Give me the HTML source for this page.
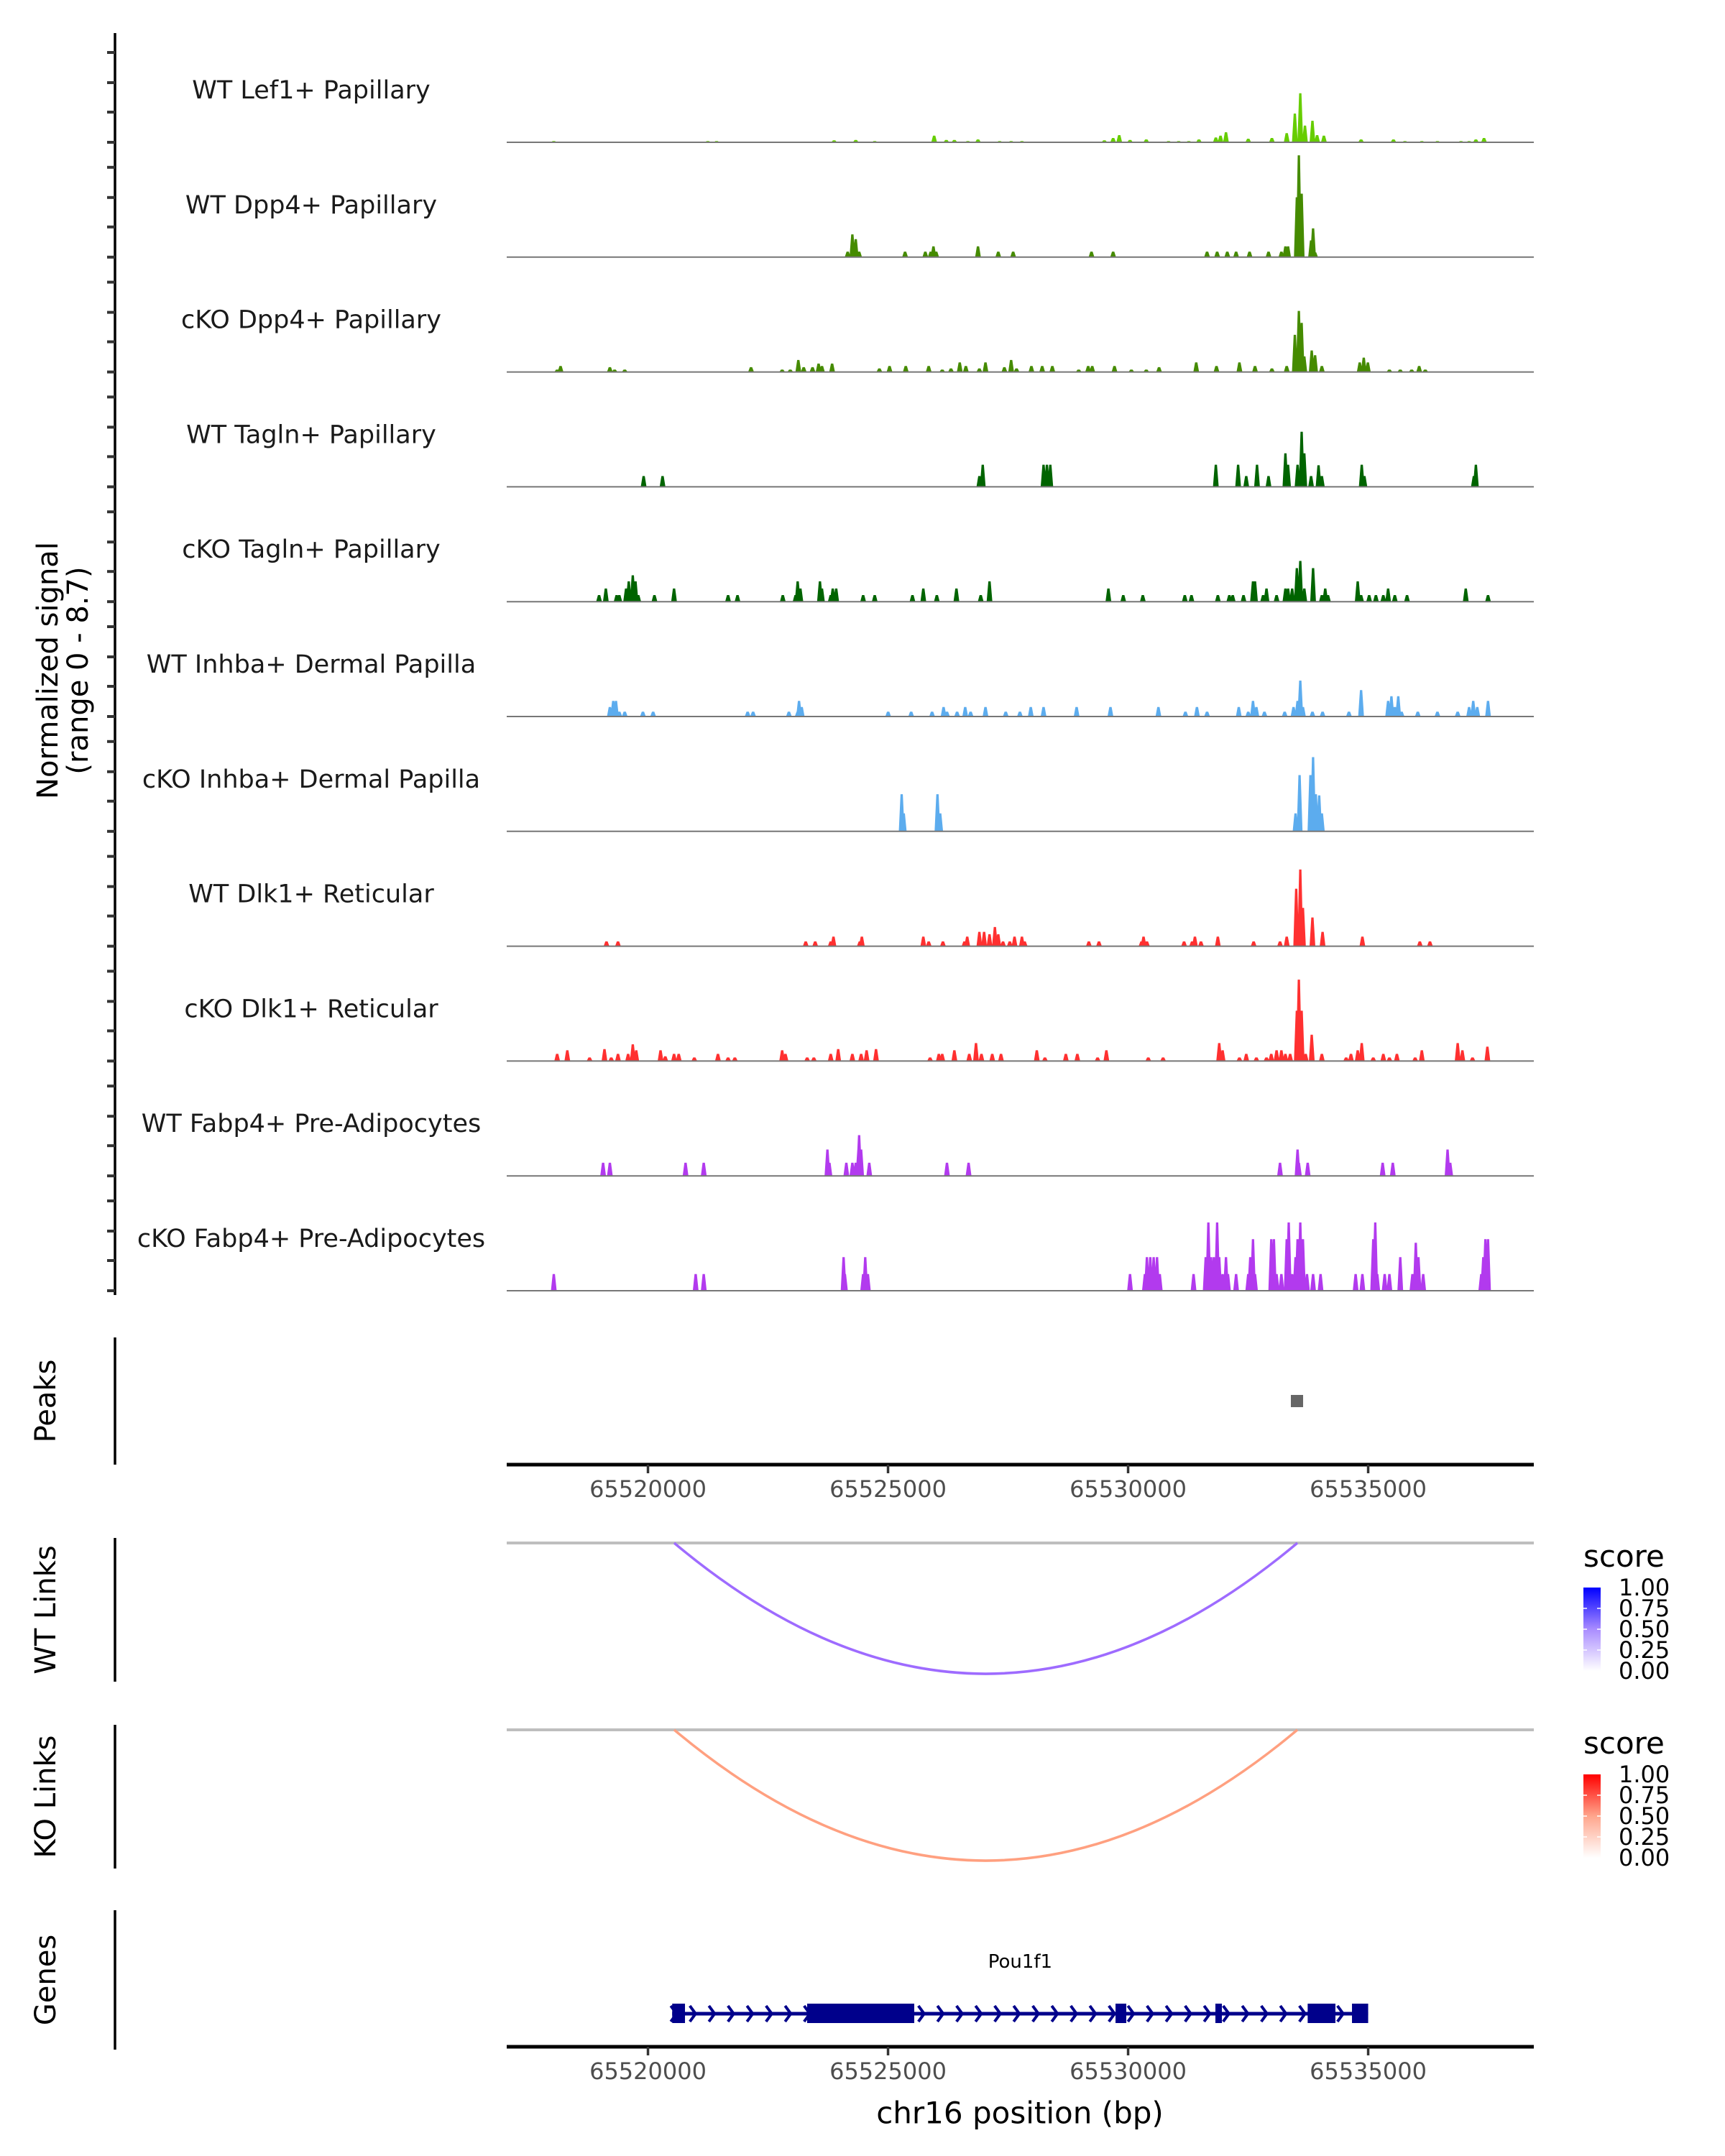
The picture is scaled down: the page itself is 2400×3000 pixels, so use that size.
<!DOCTYPE html>
<html><head><meta charset="utf-8">
<style>
html,body{margin:0;padding:0;background:#fff;}
svg{display:block;font-family:"DejaVu Sans","Liberation Sans",sans-serif;}
</style></head>
<body>
<svg id="chart" xmlns="http://www.w3.org/2000/svg" width="2400" height="3000" viewBox="0 0 2400 3000">
<rect x="0" y="0" width="2400" height="3000" fill="#fff"/>
<text transform="translate(67,933) rotate(-90)" text-anchor="middle" dominant-baseline="central" font-size="40" fill="#000">Normalized signal</text>
<text transform="translate(109,933) rotate(-90)" text-anchor="middle" dominant-baseline="central" font-size="40" fill="#000">(range 0 - 8.7)</text>
<g id="tracks"></g>
<g id="lower"></g>
</svg>
<script>
// ---- data ----
const xDomain = [65517058, 65538450];
const xTicks = [65520000, 65525000, 65530000, 65535000];
const xTickLabels = ["65520000", "65525000", "65530000", "65535000"];
const signalMax = 8.7;
const trackNames = ["WT Lef1+ Papillary","WT Dpp4+ Papillary","cKO Dpp4+ Papillary","WT Tagln+ Papillary","cKO Tagln+ Papillary","WT Inhba+ Dermal Papilla","cKO Inhba+ Dermal Papilla","WT Dlk1+ Reticular","cKO Dlk1+ Reticular","WT Fabp4+ Pre-Adipocytes","cKO Fabp4+ Pre-Adipocytes"];
const trackColors = ["#66CD00","#458B00","#458B00","#006400","#006400","#5CACEE","#5CACEE","#FF3030","#FF3030","#B23AEE","#B23AEE"];

const lef1Pos = [65518038,65521246,65521429,65523877,65524328,65524722,65525960,65526213,65526382,65526663,65526874,65527324,65527564,65527789,65529505,65529688,65529815,65530040,65530378,65530842,65531053,65531264,65531475,65531827,65531925,65532038,65532502,65532995,65533304,65533473,65533586,65533684,65533839,65533937,65534078,65534852,65535527,65535766,65536118,65536442,65536934,65537103,65537244,65537413];
const lef1Val = [0.1,0.1,0.1,0.16,0.2,0.1,0.56,0.2,0.2,0.1,0.24,0.1,0.1,0.1,0.16,0.36,0.6,0.2,0.24,0.1,0.1,0.1,0.24,0.4,0.56,0.84,0.3,0.36,0.76,2.4,4.1,1.4,1.8,0.6,0.56,0.24,0.24,0.1,0.1,0.1,0.1,0.1,0.24,0.36];

const wtDpp4Pos = [65524159,65524257,65524328,65524398,65525355,65525777,65525889,65525946,65526002,65526874,65527296,65527606,65529238,65529688,65531644,65531855,65532066,65532249,65532530,65532924,65533192,65533276,65533332,65533515,65533557,65533614,65533811,65533853,65533895];
const wtDpp4Val = [0.46,1.9,1.5,0.46,0.46,0.46,0.46,0.9,0.46,0.9,0.46,0.46,0.46,0.46,0.46,0.46,0.46,0.46,0.46,0.46,0.46,0.9,0.9,5.0,8.5,5.3,1.4,2.4,0.4];

const koDpp4Pos = [65518109,65518179,65519206,65519305,65519516,65522147,65522794,65522963,65523132,65523244,65523427,65523554,65523624,65523835,65524820,65525031,65525369,65525847,65526129,65526311,65526494,65526621,65526902,65527029,65527423,65527564,65527676,65527986,65528211,65528422,65528971,65529168,65529252,65529716,65530068,65530378,65530645,65531419,65531841,65532319,65532643,65532995,65533304,65533473,65533557,65533614,65533670,65533825,65533895,65534036,65534824,65534908,65534993,65535443,65535668,65535907,65536062,65536189];
const koDpp4Val = [0.2,0.5,0.4,0.2,0.2,0.4,0.2,0.2,1.0,0.4,0.4,0.7,0.5,0.7,0.3,0.5,0.5,0.5,0.2,0.3,0.8,0.5,0.3,0.8,0.4,1.0,0.3,0.5,0.5,0.5,0.2,0.5,0.5,0.5,0.2,0.2,0.4,0.8,0.5,0.8,0.5,0.3,0.5,3.1,5.1,4.1,1.3,1.8,1.4,0.5,0.8,1.2,0.8,0.2,0.2,0.2,0.5,0.2];

const wtTaglnPos = [65519910,65520304,65526902,65526973,65528239,65528309,65528380,65531827,65532291,65532460,65532685,65532924,65533276,65533332,65533529,65533614,65533670,65533811,65533966,65534036,65534866,65534922,65537202,65537244];
const wtTaglnVal = [0.9,0.9,0.9,1.85,1.85,1.85,1.85,1.85,1.85,0.9,1.85,0.9,2.8,1.85,1.85,4.6,2.8,0.9,1.8,0.9,1.85,0.9,0.9,1.85];

const koTaglnPos = [65518981,65519122,65519347,65519403,65519544,65519600,65519684,65519741,65519797,65520135,65520543,65521668,65521865,65522808,65523075,65523118,65523174,65523582,65523624,65523807,65523849,65523920,65524482,65524722,65525509,65525735,65526016,65526424,65526930,65527113,65529590,65529899,65530307,65531180,65531320,65531869,65532108,65532179,65532404,65532601,65532643,65532812,65532882,65533093,65533276,65533332,65533417,65533515,65533586,65533670,65533853,65534036,65534106,65534162,65534782,65534852,65535021,65535161,65535316,65535415,65535555,65535809,65537033,65537497];
const koTaglnVal = [0.55,1.1,0.55,0.55,1.1,1.7,2.2,1.7,0.55,0.55,1.1,0.55,0.55,0.55,0.55,1.7,1.1,1.7,1.1,0.55,1.1,1.1,0.55,0.55,0.55,1.1,0.55,1.1,0.55,1.7,1.1,0.55,0.55,0.55,0.55,0.55,0.55,0.55,0.55,1.7,1.7,0.55,1.1,0.55,1.1,1.1,1.1,2.8,3.4,1.1,2.8,0.55,1.1,0.55,1.7,0.55,0.55,0.55,0.55,1.1,0.55,0.55,1.1,0.55];

const wtInhbaPos = [65519206,65519276,65519333,65519403,65519516,65519895,65520107,65522076,65522189,65522935,65523118,65523146,65523202,65525003,65525481,65525917,65526157,65526227,65526438,65526607,65526719,65527029,65527451,65527747,65527972,65528239,65528928,65529632,65530631,65531194,65531433,65531644,65532305,65532502,65532601,65532671,65532840,65533262,65533445,65533529,65533586,65533642,65533839,65534050,65534599,65534852,65535415,65535485,65535555,65535626,65535696,65536034,65536442,65536864,65537103,65537188,65537272,65537497];
const wtInhbaVal = [0.8,1.3,1.3,0.4,0.4,0.4,0.4,0.4,0.4,0.4,0.4,1.3,0.8,0.4,0.4,0.4,0.8,0.4,0.4,0.8,0.4,0.8,0.4,0.4,0.8,0.8,0.8,0.8,0.8,0.4,0.8,0.4,0.8,0.4,1.3,0.8,0.4,0.4,0.8,1.3,3.0,0.8,0.4,0.4,0.4,2.2,1.3,1.7,0.8,1.7,0.4,0.4,0.4,0.4,0.8,1.3,0.8,1.3];

const koInhbaPos = [65525284,65525327,65526030,65526086,65533487,65533572,65533797,65533853,65533909,65533980,65534036];
const koInhbaVal = [3.1,1.5,3.1,1.5,1.5,4.7,4.7,6.2,3.1,3.0,1.5];

const wtDlk1Pos = [65519136,65519375,65523286,65523483,65523807,65523863,65524412,65524454,65525735,65525847,65526143,65526593,65526649,65526902,65527001,65527113,65527226,65527296,65527395,65527536,65527634,65527789,65527845,65529182,65529393,65530279,65530321,65530392,65531166,65531334,65531391,65531517,65531869,65532615,65533164,65533304,65533501,65533586,65533642,65533839,65534050,65534880,65536076,65536287];
const wtDlk1Val = [0.4,0.4,0.4,0.4,0.4,0.8,0.4,0.8,0.8,0.4,0.4,0.4,0.8,1.2,1.2,1.0,1.6,1.0,0.4,0.4,0.8,0.8,0.4,0.4,0.4,0.4,0.8,0.4,0.4,0.4,0.8,0.4,0.8,0.4,0.4,0.8,4.8,6.4,3.2,2.4,1.2,0.8,0.4,0.4];

const koDlk1Pos = [65518109,65518320,65518784,65519094,65519234,65519375,65519586,65519684,65519755,65520261,65520360,65520543,65520641,65520965,65521457,65521668,65521809,65522794,65522864,65523315,65523455,65523807,65523962,65524257,65524440,65524553,65524750,65525875,65526058,65526129,65526382,65526691,65526832,65526945,65527170,65527353,65528098,65528267,65528703,65528943,65529365,65529548,65530420,65530729,65531897,65531968,65532319,65532460,65532671,65532882,65532981,65533093,65533192,65533276,65533375,65533515,65533557,65533614,65533698,65533825,65534036,65534542,65534641,65534782,65534866,65535105,65535316,65535443,65535598,65535978,65536118,65536864,65536962,65537173,65537483];
const koDlk1Val = [0.6,0.9,0.3,1.0,0.3,0.6,0.6,1.4,0.9,0.9,0.4,0.6,0.6,0.3,0.6,0.3,0.3,0.9,0.6,0.3,0.3,0.6,1.0,0.6,0.6,0.9,1.0,0.3,0.6,0.6,0.9,0.6,1.5,0.6,0.6,0.6,0.9,0.3,0.6,0.6,0.3,0.9,0.3,0.3,1.5,0.9,0.3,0.6,0.3,0.3,0.6,0.9,0.9,0.6,0.6,4.2,6.8,4.2,0.6,2.2,0.6,0.3,0.6,0.9,1.5,0.3,0.6,0.3,0.6,0.3,0.9,1.5,0.9,0.3,1.2];

const wtFabp4Pos = [65519065,65519206,65520782,65521162,65523737,65523779,65524131,65524257,65524328,65524384,65524398,65524440,65524609,65526227,65526677,65533164,65533529,65533557,65533740,65535302,65535513,65536653,65536709];
const wtFabp4Val = [1.1,1.1,1.1,1.1,2.2,1.1,1.1,1.1,1.1,2.2,3.4,2.2,1.1,1.1,1.1,1.1,2.2,1.1,1.1,1.1,1.1,2.2,1.1];

const koFabp4Pos = [65518038,65520993,65521162,65524074,65524102,65524482,65524525,65524581,65530040,65530350,65530392,65530462,65530532,65530603,65530659,65531363,65531616,65531672,65531728,65531785,65531855,65531897,65531968,65532038,65532080,65532249,65532502,65532544,65532601,65532643,65532981,65533037,65533093,65533192,65533304,65533346,65533417,65533487,65533529,65533586,65533642,65533726,65533853,65534008,65534739,65534880,65535105,65535147,65535190,65535344,65535443,65535668,65535921,65535992,65536048,65536146,65537356,65537398,65537441,65537497];
const koFabp4Val = [1.4,1.4,1.4,2.8,1.4,1.4,2.8,1.4,1.4,1.4,2.8,2.8,2.8,2.8,1.4,1.4,2.8,5.7,2.8,2.8,5.7,2.8,1.4,2.8,1.4,1.4,1.4,2.8,4.3,1.4,4.3,4.3,1.4,1.4,4.3,5.7,1.4,2.8,4.3,5.7,4.3,1.4,1.4,1.4,1.4,1.4,4.3,5.7,1.4,1.4,1.4,2.8,1.4,4.0,2.8,1.4,1.4,2.8,4.3,4.3];

const peakStart = [65533390];
const peakEnd = [65533645];

const linkStart = [65520546];
const linkEnd = [65533525];
const wtLinkScore = [0.6];
const koLinkScore = [0.45];

const exonStart = [65520505,65523315,65529738,65531818,65533740,65534663];
const exonEnd = [65520771,65525546,65529962,65531953,65534318,65535000];
const geneStart = [65520505];
const geneEnd = [65535000];
const legendTicks = [1.00,0.75,0.50,0.25,0.00];
const legendLabels = ["1.00","0.75","0.50","0.25","0.00"];

const trackPos = [lef1Pos,wtDpp4Pos,koDpp4Pos,wtTaglnPos,koTaglnPos,wtInhbaPos,koInhbaPos,wtDlk1Pos,koDlk1Pos,wtFabp4Pos,koFabp4Pos];
const trackVal = [lef1Val,wtDpp4Val,koDpp4Val,wtTaglnVal,koTaglnVal,wtInhbaVal,koInhbaVal,wtDlk1Val,koDlk1Val,wtFabp4Val,koFabp4Val];

// ---- layout ----
const NS = "http://www.w3.org/2000/svg";
const PX0 = 705, PX1 = 2134;
const xs = v => PX0 + (v - xDomain[0]) / (xDomain[1] - xDomain[0]) * (PX1 - PX0);
const BASE0 = 198, TRACK_H = 159.8, SIG_PX = 145;
const ys = v => v / signalMax * SIG_PX;
function mk(tag, attrs, parent) {
  const e = document.createElementNS(NS, tag);
  for (const k in attrs) e.setAttribute(k, attrs[k]);
  parent.appendChild(e);
  return e;
}
const tracksG = document.getElementById('tracks');
const lower = document.getElementById('lower');

const leftAxis = mk('line', {x1:160, y1:46, x2:160, y2:1802, stroke:'#000', 'stroke-width':3.5}, tracksG);



const HW = 60;
trackNames.forEach((name, i) => {
  const base = BASE0 + i * TRACK_H;
  const g = mk('g', {}, tracksG);
  
  
  [0, 42, 83, 125].forEach(off => {
    const t = mk('line', {x1:149, y1:base - off, x2:160, y2:base - off, stroke:'#333', 'stroke-width':4}, g);
    
    
  });
  const lab = mk('text', {x:433, y:base - 72, 'text-anchor':'middle', 'dominant-baseline':'central', 'font-size':35, fill:'#1a1a1a'}, g);
  lab.textContent = name;
  
  
  const pos = trackPos[i], val = trackVal[i];
  let d = '';
  for (let k = 0; k < Math.min(pos.length, val.length); k++) {
    const xa = xs(pos[k] - HW), xb = xs(pos[k] + HW);
    const xm = xs(pos[k]);
    const h = Math.max(ys(val[k]), 1.5);
    const top = base - h;
    d += 'M' + xa.toFixed(1) + ',' + base + 'L' + (xm - 1.6).toFixed(1) + ',' + top.toFixed(1) + 'L' + (xm + 1.6).toFixed(1) + ',' + top.toFixed(1) + 'L' + xb.toFixed(1) + ',' + base + 'Z';
  }
  const area = mk('path', {d: d, fill: trackColors[i]}, g);
  
  
  const bl = mk('line', {x1:PX0, y1:base, x2:PX1, y2:base, stroke:'#777', 'stroke-width':2}, g);
  
  
});

function sidePanel(name, label, y1, y2) {
  const ax = mk('line', {x1:160, y1:y1, x2:160, y2:y2, stroke:'#000', 'stroke-width':3.5}, lower);
  
  
  const tc = (y1 + y2) / 2;
  const t = mk('text', {transform:'translate(64,' + tc + ') rotate(-90)', 'text-anchor':'middle', 'dominant-baseline':'central', 'font-size':40, fill:'#000'}, lower);
  t.textContent = label;
  
  
}
sidePanel('peaks', 'Peaks', 1861, 2038);
sidePanel('wt-links', 'WT Links', 2140, 2340);
sidePanel('ko-links', 'KO Links', 2400, 2600);
sidePanel('genes', 'Genes', 2658, 2852);

peakStart.forEach((s, k) => {
  const r = mk('rect', {x:xs(s), y:1941, width:xs(peakEnd[k]) - xs(s), height:17, fill:'#666'}, lower);
  
  
});

function xAxis(name, y) {
  const ax = mk('line', {x1:PX0, y1:y, x2:PX1, y2:y, stroke:'#000', 'stroke-width':5}, lower);
  
  
  xTicks.forEach((v, k) => {
    const t = mk('line', {x1:xs(v), y1:y, x2:xs(v), y2:y + 12, stroke:'#333', 'stroke-width':3.5}, lower);
    
    
    const l = mk('text', {x:xs(v), y:y + 34, 'text-anchor':'middle', 'dominant-baseline':'central', 'font-size':32, fill:'#4d4d4d'}, lower);
    l.textContent = xTickLabels[k];
    
    
  });
}
xAxis('peaks-x-axis', 2038);
xAxis('x-axis', 2848);

const xt = mk('text', {x:1419, y:2940, 'text-anchor':'middle', 'dominant-baseline':'central', 'font-size':42, fill:'#000'}, lower);
xt.textContent = 'chr16 position (bp)';



const defs = mk('defs', {}, lower);
function gradient(id, hi, mid) {
  const gr = mk('linearGradient', {id:id, x1:0, y1:1, x2:0, y2:0}, defs);
  mk('stop', {offset:'0', 'stop-color':'#ffffff'}, gr);
  mk('stop', {offset:'0.5', 'stop-color':mid}, gr);
  mk('stop', {offset:'1', 'stop-color':hi}, gr);
}
gradient('gradBlue', '#0000FF', '#A98CFF');
gradient('gradRed', '#FF0000', '#FFA58C');

function linkPanel(name, lineY, depth, scores, color, grad, legY) {
  const bl = mk('line', {x1:PX0, y1:lineY, x2:PX1, y2:lineY, stroke:'#bebebe', 'stroke-width':4}, lower);
  
  
  linkStart.forEach((s, k) => {
    const xa = xs(s), xb = xs(linkEnd[k]);
    const arc = mk('path', {d:'M' + xa + ',' + lineY + ' Q' + ((xa + xb) / 2) + ',' + (lineY + 2 * depth) + ' ' + xb + ',' + lineY, fill:'none', stroke:color, 'stroke-width':3.5, 'data-score':scores[k]}, lower);
    
    
  });
  const lg = mk('g', {}, lower);
  
  
  const st = mk('text', {x:2203, y:legY, 'font-size':42, fill:'#000'}, lg);
  st.textContent = 'score';
  
  
  const by0 = legY + 29, by1 = legY + 145;
  const bar = mk('rect', {x:2203, y:by0, width:24, height:by1 - by0, fill:'url(#' + grad + ')'}, lg);
  
  
  legendTicks.forEach((v, k) => {
    const y = by1 - v * (by1 - by0);
    if (v > 0 && v < 1) {
      mk('line', {x1:2203, y1:y, x2:2208, y2:y, stroke:'#fff', 'stroke-width':1.5}, lg);
      mk('line', {x1:2222, y1:y, x2:2227, y2:y, stroke:'#fff', 'stroke-width':1.5}, lg);
    }
    const l = mk('text', {x:2252, y:y, 'dominant-baseline':'central', 'font-size':32, fill:'#000'}, lg);
    l.textContent = legendLabels[k];
    
    
  });
}
linkPanel('wt-links', 2147, 182, wtLinkScore, '#9E6BFF', 'gradBlue', 2180);
linkPanel('ko-links', 2407, 182, koLinkScore, '#FFA080', 'gradRed', 2440);

const gg = mk('g', {}, lower);


const GY = 2802;
geneStart.forEach((s, k) => {
  const ln = mk('line', {x1:xs(s), y1:GY, x2:xs(geneEnd[k]), y2:GY, stroke:'#00008B', 'stroke-width':5}, gg);
  
  
  const gl = mk('text', {x:(xs(s) + xs(geneEnd[k])) / 2, y:2730, 'text-anchor':'middle', 'dominant-baseline':'central', 'font-size':26, fill:'#000'}, gg);
  gl.textContent = 'Pou1f1';
  
  
  let d = '';
  for (let x = xs(s) + 2; x < xs(geneEnd[k]) - 4; x += 26.5) {
    d += 'M' + (x - 4) + ',' + (GY - 11) + 'L' + (x + 4) + ',' + GY + 'L' + (x - 4) + ',' + (GY + 11);
  }
  const ch = mk('path', {d:d, fill:'none', stroke:'#00008B', 'stroke-width':4}, gg);
  
  
});
exonStart.forEach((s, k) => {
  const r = mk('rect', {x:xs(s), y:GY - 14, width:xs(exonEnd[k]) - xs(s), height:27, fill:'#00008B'}, gg);
  
  
});
</script>
</body></html>
